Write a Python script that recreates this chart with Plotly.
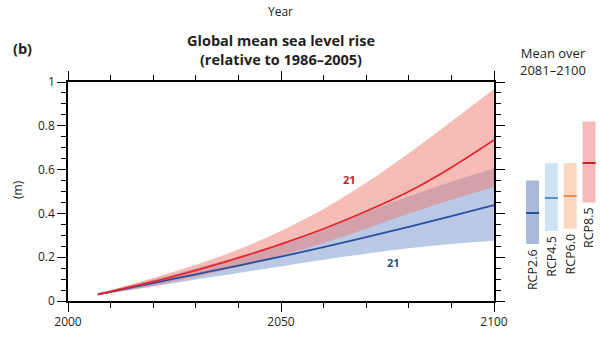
import plotly.graph_objects as go

# ---- data ----
years = [2007, 2010, 2020, 2030, 2040, 2050, 2060, 2070, 2080, 2090, 2100]
rcp85_mean = [0.030, 0.043, 0.088, 0.140, 0.197, 0.260, 0.330, 0.410, 0.500, 0.610, 0.735]
rcp85_low = [0.025, 0.036, 0.070, 0.110, 0.155, 0.207, 0.265, 0.330, 0.400, 0.462, 0.520]
rcp85_high = [0.035, 0.050, 0.105, 0.165, 0.235, 0.320, 0.420, 0.540, 0.675, 0.820, 0.968]
rcp26_mean = [0.030, 0.042, 0.082, 0.122, 0.162, 0.203, 0.246, 0.292, 0.339, 0.388, 0.438]
rcp26_low = [0.025, 0.035, 0.066, 0.098, 0.128, 0.158, 0.188, 0.216, 0.241, 0.260, 0.275]
rcp26_high = [0.035, 0.049, 0.098, 0.150, 0.203, 0.262, 0.330, 0.405, 0.478, 0.545, 0.605]

scenarios = ["RCP2.6", "RCP4.5", "RCP6.0", "RCP8.5"]
end_mean = [0.40, 0.47, 0.48, 0.63]
end_low = [0.26, 0.32, 0.33, 0.45]
end_high = [0.55, 0.63, 0.63, 0.82]
bar_colors = ["#a8bbdb", "#cfe3f6", "#fdd8c0", "#f7baba"]
mean_colors = ["#2c4f96", "#5a93d0", "#ee8c52", "#c8202c"]

x_ticks = [2000, 2050, 2100]

W, H = 600, 337
FONT = "Open Sans"
TXT = "#231f20"

def px(x):
    return x / W

def py(y):
    return 1 - y / H

fig = go.Figure()

# bands
band = dict(mode="lines", showlegend=False, hoverinfo="skip")
fig.add_trace(go.Scatter(x=years, y=rcp26_high, line=dict(width=0, shape="spline"), **band))
fig.add_trace(go.Scatter(x=years, y=rcp26_low, line=dict(width=0, shape="spline"),
                         fill="tonexty", fillcolor="rgba(118,150,205,0.5)", **band))
fig.add_trace(go.Scatter(x=years, y=rcp85_high, line=dict(width=0, shape="spline"), **band))
fig.add_trace(go.Scatter(x=years, y=rcp85_low, line=dict(width=0, shape="spline"),
                         fill="tonexty", fillcolor="rgba(240,115,105,0.48)", **band))
# mean lines
fig.add_trace(go.Scatter(x=years, y=rcp26_mean, mode="lines",
                         line=dict(color="#2a4f9e", width=1.8, shape="spline"),
                         showlegend=False))
fig.add_trace(go.Scatter(x=years, y=rcp85_mean, mode="lines",
                         line=dict(color="#e32630", width=1.8, shape="spline"),
                         showlegend=False))

# right panel: ranges over 2081-2100
fig.add_trace(go.Bar(x=scenarios, y=[h - l for h, l in zip(end_high, end_low)], base=end_low,
                     marker=dict(color=bar_colors, line=dict(width=0)), width=0.69,
                     xaxis="x2", yaxis="y2", showlegend=False))
line_th = 0.005
fig.add_trace(go.Bar(x=scenarios, y=[line_th] * len(end_mean),
                     base=[m - line_th / 2 for m in end_mean],
                     marker=dict(color=mean_colors, line=dict(width=0)), width=0.69,
                     xaxis="x2", yaxis="y2", showlegend=False))

xdom = [px(68), px(494)]
ydom = [py(301), py(82)]
xcommon = dict(range=[2000, 2100], tickvals=x_ticks,
               ticks="outside", ticklen=9, tickwidth=1.3, tickcolor="black",
               showline=True, linecolor="black", linewidth=1.5,
               showgrid=False, zeroline=False, automargin=False,
               minor=dict(dtick=10, ticks="outside", ticklen=5, tickwidth=1,
                          tickcolor="black", showgrid=False))
ycommon = dict(range=[0, 1], dtick=0.2,
               ticks="outside", ticklen=9, tickwidth=1.3, tickcolor="black",
               showline=True, linecolor="black", linewidth=1.5,
               showgrid=False, zeroline=False, automargin=False,
               minor=dict(dtick=0.05, ticks="outside", ticklen=5, tickwidth=1,
                          tickcolor="black", showgrid=False))

fig.update_layout(
    width=W, height=H, margin=dict(l=0, r=0, t=0, b=0, autoexpand=False),
    paper_bgcolor="white", plot_bgcolor="white",
    barmode="overlay",
    font=dict(family=FONT, size=12, color=TXT),
    xaxis=dict(domain=xdom, anchor="y", side="bottom",
               tickfont=dict(size=12, color=TXT), **xcommon),
    yaxis=dict(domain=ydom, anchor="x", side="left",
               tickfont=dict(size=12, color=TXT), **ycommon),
    xaxis3=dict(overlaying="x", anchor="y", side="top", showticklabels=False, **xcommon),
    yaxis3=dict(overlaying="y", anchor="x", side="right", showticklabels=False, **ycommon),
    xaxis2=dict(domain=[px(522), 1.0], range=[-0.56, 3.58], visible=False, anchor="y2"),
    yaxis2=dict(domain=ydom, range=[0, 1], visible=False, anchor="x2"),
)
# invisible trace to activate the mirrored axes
fig.add_trace(go.Scatter(x=[x_ticks[0]], y=[0], xaxis="x3", yaxis="y3", mode="markers",
                         marker=dict(opacity=0), showlegend=False, hoverinfo="skip"))

ann = []
ann.append(dict(x=px(281), y=py(50), xref="paper", yref="paper", showarrow=False,
                text="<b>Global mean sea level rise<br>(relative to 1986–2005)</b>",
                font=dict(size=14.5, color=TXT), xanchor="center", yanchor="middle"))
ann.append(dict(x=px(22), y=py(48), xref="paper", yref="paper", showarrow=False,
                text="<b>(b)</b>", font=dict(size=14.5, color=TXT), xanchor="center", yanchor="middle"))
ann.append(dict(x=px(280), y=py(11), xref="paper", yref="paper", showarrow=False,
                text="Year", font=dict(size=12, color=TXT), xanchor="center", yanchor="middle"))
ann.append(dict(x=px(553), y=py(61), xref="paper", yref="paper", showarrow=False,
                text="Mean over<br>2081–2100", font=dict(size=13, color=TXT),
                xanchor="center", yanchor="middle"))
ann.append(dict(x=px(17), y=py(190), xref="paper", yref="paper", showarrow=False,
                text="(m)", textangle=-90, font=dict(size=12, color=TXT),
                xanchor="center", yanchor="middle"))
ann.append(dict(x=2066, y=0.555, xref="x", yref="y", showarrow=False,
                text="<b>21</b>", font=dict(size=11, color="#c8202c")))
ann.append(dict(x=2076.5, y=0.175, xref="x", yref="y", showarrow=False,
                text="<b>21</b>", font=dict(size=11, color="#2c4f80")))
for s, lo in zip(scenarios, end_low):
    ann.append(dict(x=s, y=lo, xref="x2", yref="y2", showarrow=False, text=s,
                    textangle=-90, font=dict(size=12.5, color=TXT),
                    xanchor="center", yanchor="top", yshift=-3))
fig.update_layout(annotations=ann)

fig.write_html("out.html")
